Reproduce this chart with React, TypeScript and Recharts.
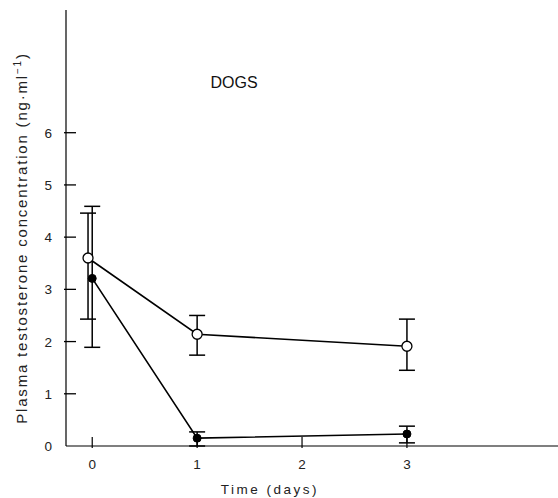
import React from 'react';
import { LineChart, Line, XAxis, YAxis, ErrorBar } from 'recharts';

// values (ng/ml)
const openDays = [-0.04, 1, 3];
const openMean = [3.6, 2.14, 1.91];
const openLow = [2.43, 1.74, 1.45];
const openHigh = [4.46, 2.5, 2.43];

const filledDays = [0, 1, 3];
const filledMean = [3.21, 0.15, 0.23];
const filledLow = [1.89, 0, 0.06];
const filledHigh = [4.59, 0.27, 0.38];

const xTicks = [0, 1, 2, 3];
const yTicks = [0, 1, 2, 3, 4, 5, 6];

const build = (days: number[], mean: number[], low: number[], high: number[]) =>
  days.map((d, i) => ({ x: d, y: mean[i], err: [mean[i] - low[i], high[i] - mean[i]] }));

const openData = build(openDays, openMean, openLow, openHigh);
const filledData = build(filledDays, filledMean, filledLow, filledHigh);

const font = '"Liberation Sans", Arial, sans-serif';

const YTick: React.FC<any> = ({ x, y, payload }) => (
  <g>
    {payload.value !== 0 && <line x1={x} y1={y} x2={x + 12} y2={y} stroke="#000" strokeWidth={1.3} />}
    <text x={x - 12} y={y} dy={5} textAnchor="end" fontSize={13.5} fontFamily={font} fill="#222">
      {payload.value}
    </text>
  </g>
);

const XTick: React.FC<any> = ({ x, y, payload }) => (
  <g>
    <line x1={x} y1={y} x2={x} y2={y - 11} stroke="#000" strokeWidth={1.2} />
    <text x={x} y={y + 21} textAnchor="middle" fontSize={13.5} fontFamily={font} fill="#222">
      {payload.value}
    </text>
  </g>
);

const YLabel: React.FC<any> = () => (
  <text
    transform="translate(27,238) rotate(-90)"
    textAnchor="middle"
    fontSize={15}
    fontFamily={font}
    letterSpacing={1.8}
    fill="#222"
  >
    Plasma testosterone concentration (ng·ml
    <tspan dy={-6} fontSize={10}>−1</tspan>
    <tspan dy={6}>)</tspan>
  </text>
);

const XLabel: React.FC<any> = () => (
  <text x={270} y={494} textAnchor="middle" fontSize={13.5} fontFamily={font} letterSpacing={2.5} fill="#222">
    Time (days)
  </text>
);

export default function App() {
  return (
    <div style={{ position: 'absolute', left: 0, top: 0, background: '#fff' }}>
      <LineChart width={558} height={498} margin={{ top: 10, right: 0, bottom: 0, left: 0 }}>
        <XAxis
          type="number"
          dataKey="x"
          domain={[-0.25, 4.44]}
          ticks={xTicks}
          height={52}
          tickSize={0}
          tickLine={false}
          tick={<XTick />}
          stroke="#000"
          strokeWidth={1.2}
          allowDataOverflow
          label={<XLabel />}
        />
        <YAxis
          type="number"
          dataKey="y"
          domain={[0, 8.35]}
          ticks={yTicks}
          width={66}
          tickSize={0}
          tickLine={false}
          tick={<YTick />}
          stroke="#000"
          strokeWidth={1.2}
          allowDataOverflow
          label={<YLabel />}
        />
        <Line
          data={openData}
          dataKey="y"
          stroke="#000"
          strokeWidth={1.6}
          dot={{ r: 5, fill: '#fff', stroke: '#000', strokeWidth: 1.3 }}
          isAnimationActive={false}
        >
          <ErrorBar dataKey="err" direction="y" width={8} stroke="#000" strokeWidth={1.5} />
        </Line>
        <Line
          data={filledData}
          dataKey="y"
          stroke="#000"
          strokeWidth={1.6}
          dot={{ r: 4, fill: '#000', stroke: '#000', strokeWidth: 1 }}
          isAnimationActive={false}
        >
          <ErrorBar dataKey="err" direction="y" width={8} stroke="#000" strokeWidth={1.5} />
        </Line>
        <text x={234} y={88} textAnchor="middle" fontSize={16} fontFamily={font} fill="#111">
          DOGS
        </text>
      </LineChart>
    </div>
  );
}
